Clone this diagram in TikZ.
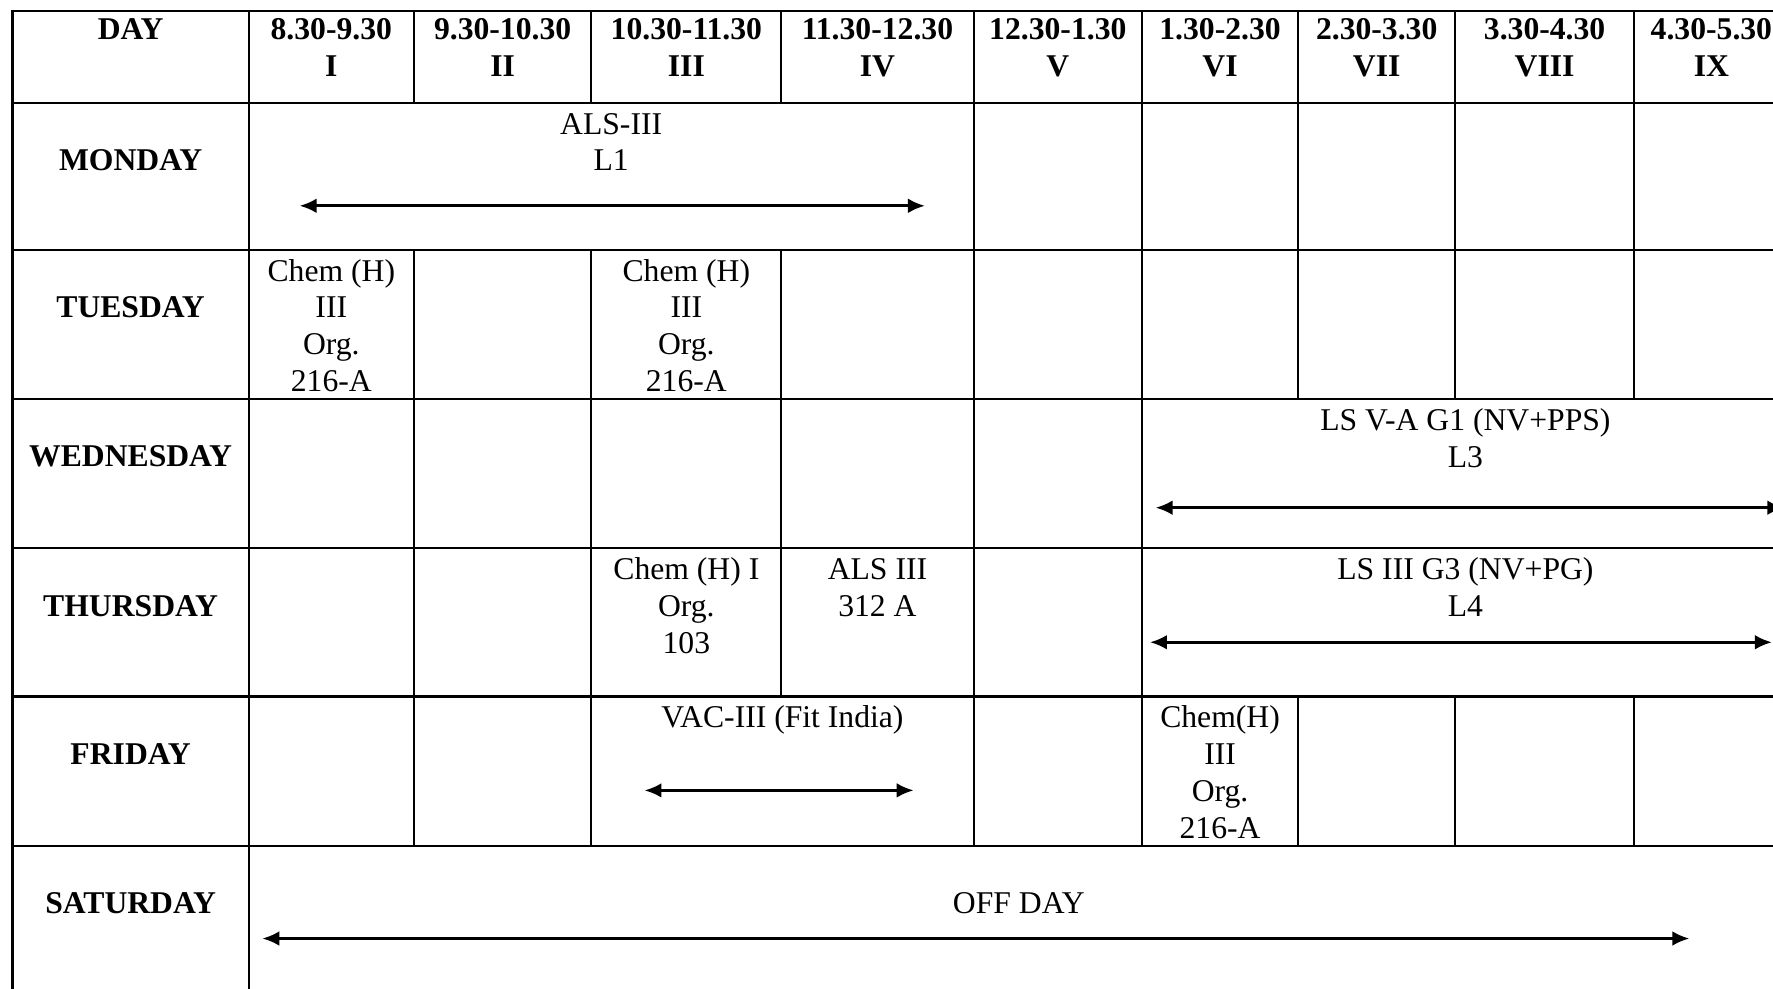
\documentclass[tikz,border=0pt]{standalone}
\usepackage{fontspec}
\setmainfont{Liberation Serif}
\usetikzlibrary{arrows.meta}
\newcommand{\tfs}{\fontsize{28}{32.5}\selectfont}
\begin{document}
\begin{tikzpicture}[x=1pt,y=-1pt,
  grid/.style={line width=1.9pt, line cap=rect},
  cell/.style={anchor=north, inner sep=0pt, align=center, font=\tfs},
  head/.style={anchor=north, inner sep=0pt, align=center, font=\tfs\bfseries},
  dayl/.style={anchor=base, inner sep=0pt, font=\tfs\bfseries},
  spanarrow/.style={{Latex[length=15pt,width=13pt]}-{Latex[length=15pt,width=13pt]}, line width=2.4pt}]
\useasboundingbox (0,0) rectangle (1568,874);
\clip (0,0) rectangle (1568,874);
\fill[white] (0,0) rectangle (1568,874);
% horizontal rules
\foreach \y in {10,91,221,353,485,616,748} \draw[grid] (11,\y) -- (1600,\y);
% outer verticals
\draw[grid] (11,10) -- (11,900);
\draw[grid] (220,10) -- (220,900);
% header verticals
\foreach \x in {366,523,691,861,1010,1148,1287,1445} \draw[grid] (\x,10) -- (\x,91);
% Monday
\foreach \x in {861,1010,1148,1287,1445} \draw[grid] (\x,91) -- (\x,221);
% Tuesday
\foreach \x in {366,523,691,861,1010,1148,1287,1445} \draw[grid] (\x,221) -- (\x,353);
% Wednesday
\foreach \x in {366,523,691,861,1010} \draw[grid] (\x,353) -- (\x,485);
% Thursday
\foreach \x in {366,523,691,861,1010} \draw[grid] (\x,485) -- (\x,616);
% Friday
\foreach \x in {366,523,861,1010,1148,1287,1445} \draw[grid] (\x,616) -- (\x,748);

% header
\node[head] (h0) at (115.5,12.25) {\strut DAY};
\node[head] (h1) at (293,12.25) {\strut 8.30-9.30\\I};
\node[head] (h2) at (444.5,12.25) {\strut 9.30-10.30\\II};
\node[head] (h3) at (607,12.25) {\strut 10.30-11.30\\III};
\node[head] (h4) at (776,12.25) {\strut 11.30-12.30\\IV};
\node[head] (h5) at (935.5,12.25) {\strut 12.30-1.30\\V};
\node[head] (h6) at (1079,12.25) {\strut 1.30-2.30\\VI};
\node[head] (h7) at (1217.5,12.25) {\strut 2.30-3.30\\VII};
\node[head] (h8) at (1366,12.25) {\strut 3.30-4.30\\VIII};
\node[head] (h9) at (1513.5,12.25) {\strut 4.30-5.30\\IX};

% day labels
\node[dayl] (dmon) at (115.5,151) {MONDAY};
\node[dayl] (dtue) at (115.5,281) {TUESDAY};
\node[dayl] (dwed) at (115.5,413) {WEDNESDAY};
\node[dayl] (dthu) at (115.5,545) {THURSDAY};
\node[dayl] (dfri) at (115.5,676) {FRIDAY};
\node[dayl] (dsat) at (115.5,808) {SATURDAY};

% Monday
\node[cell] (mals) at (540.5,95.75) {\strut ALS-III\\L1};
\coordinate (ma) at (265,182);
\coordinate (mb) at (818,182);
\draw[spanarrow] (ma) -- (mb);

% Tuesday
\node[cell] (tchem1) at (293,225.75) {\strut Chem (H)\\III\\Org.\\216-A};
\node[cell] (tchem2) at (607,225.75) {\strut Chem (H)\\III\\Org.\\216-A};

% Wednesday
\node[cell] (wls) at (1296,357.75) {\strut LS V-A G1 (NV+PPS)\\L3};
\coordinate (wa) at (1022,449);
\coordinate (wb) at (1578,449);
\draw[spanarrow] (wa) -- (wb);

% Thursday
\node[cell] (thchem) at (607,489.75) {\strut Chem (H) I\\Org.\\103};
\node[cell] (thals) at (776,489.75) {\strut ALS III\\312 A};
\node[cell] (thls) at (1296,489.75) {\strut LS III G3 (NV+PG)\\L4};
\coordinate (tha) at (1017,568);
\coordinate (thb) at (1567,568);
\draw[spanarrow] (tha) -- (thb);

% Friday
\node[cell] (fvac) at (692,620.75) {\strut VAC-III (Fit India)};
\coordinate (fa) at (570,699);
\coordinate (fb) at (808,699);
\draw[spanarrow] (fa) -- (fb);
\node[cell] (fchem) at (1079,620.75) {\strut Chem(H)\\III\\Org.\\216-A};

% Saturday
\node[anchor=base, inner sep=0pt, font=\tfs] (soff) at (901,808) {OFF DAY};
\coordinate (sa) at (232,830);
\coordinate (sb) at (1494,830);
\draw[spanarrow] (sa) -- (sb);
\end{tikzpicture}
\end{document}
